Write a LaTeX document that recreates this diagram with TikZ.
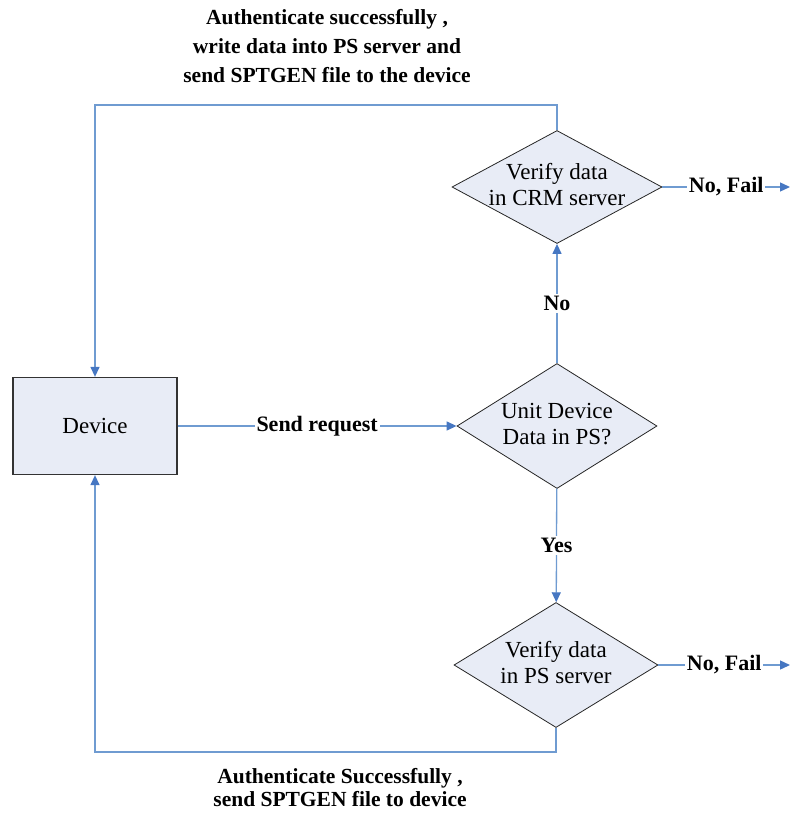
\documentclass[tikz,border=0pt]{standalone}
\usepackage{fontspec}
\setmainfont{Liberation Serif}
\usetikzlibrary{shapes.geometric,arrows.meta}

\definecolor{boxfill}{HTML}{E8ECF6}
\definecolor{wire}{HTML}{6F9BD1}
\definecolor{tipblue}{HTML}{4677C2}

% two-line text that takes no width, so the shape size is set by the minimum sizes alone
\newcommand{\zerobox}[1]{\makebox[0pt]{\begin{tabular}{@{}c@{}}#1\end{tabular}}}

\begin{document}
\begin{tikzpicture}[x=1pt,y=-1pt,
  shapetext/.style={font=\fontsize{23}{26}\selectfont},
  decision/.style={diamond, draw=black!85, line width=0.8pt, fill=boxfill,
    inner sep=0pt, shapetext},
  devicebox/.style={rectangle, draw=black!80, line width=1.3pt, fill=boxfill,
    minimum width=164pt, minimum height=97pt, shapetext},
  flow/.style={draw=wire, line width=1.3pt,
    -{Triangle[length=10pt,width=9pt,color=tipblue]}},
  tag/.style={font=\fontsize{22}{26}\selectfont\bfseries, fill=white,
    inner sep=2pt},
  caption/.style={align=center}]

\useasboundingbox (0,0) rectangle (791,816);

% boxes
\node[devicebox] (dev) at (95,426) {Device};
\node[decision, minimum width=200pt, minimum height=125pt] (unit) at (557,426)
  {\zerobox{Unit Device\\Data in PS?}};
\node[decision, minimum width=210pt, minimum height=113pt] (crm) at (557,187)
  {\zerobox{Verify data\\in CRM server}};
\node[decision, minimum width=204pt, minimum height=125pt] (ps) at (556,665)
  {\zerobox{Verify data\\in PS server}};

% free ends and bends
\coordinate (crmout) at (790,187);
\coordinate (psout) at (790,665);
\coordinate (topbend) at (95,105);
\coordinate (botbend) at (95,752);

% connectors
\draw[flow] (dev) -- node[tag] {Send request} (unit);
\draw[flow] (unit) -- node[tag] {No} (crm);
\draw[flow] (unit) -- node[tag] {Yes} (ps);
\draw[flow] (crm.east) -- node[tag] {No, Fail} (crmout);
\draw[flow] (ps.east) -- node[tag] {No, Fail} (psout);
\draw[flow] (crm.north) |- (topbend) -- (dev.north);
\draw[flow] (ps.south) |- (botbend) -- (dev.south);

% captions of the two return paths
\node[caption, font=\fontsize{21.5}{29}\selectfont\bfseries] (topnote) at (327,46)
  {Authenticate successfully ,\\write data into PS server and\\send SPTGEN file to the device};
\node[caption, font=\fontsize{21.5}{23}\selectfont\bfseries] (botnote) at (340,788)
  {Authenticate Successfully ,\\send SPTGEN file to device};
\end{tikzpicture}
\end{document}
